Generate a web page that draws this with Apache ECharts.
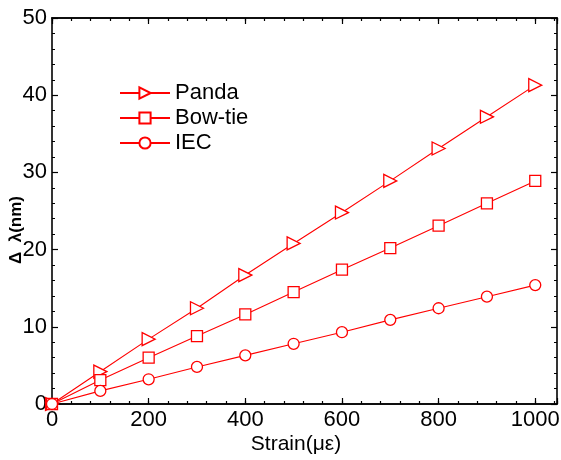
<!DOCTYPE html>
<html><head><meta charset="utf-8">
<script src="https://cdn.jsdelivr.net/npm/echarts@6/dist/echarts.min.js"></script>
<style>html,body{margin:0;padding:0;background:#fff}#c{width:561px;height:460px}</style>
</head><body><div id="c"></div>
<script>
const strain = [0,100,200,300,400,500,600,700,800,900,1000];
const panda = [0,4.2,8.4,12.4,16.7,20.8,24.8,28.9,33.1,37.2,41.3];
const bowtie = [0,3.1,6.0,8.8,11.6,14.5,17.4,20.2,23.1,26.0,28.9];
const iec = [0,1.7,3.2,4.8,6.3,7.8,9.3,10.9,12.4,13.9,15.4];
const names = ['Panda','Bow-tie','IEC'];
const xTicks = [0,200,400,600,800,1000];

const font = 'Liberation Sans, Arial, sans-serif';
const red = '#ff0000';
const X_MAX = 1045;
function mk(name, vals, symbol, size, rot){
  return {name, type:'line', xAxisIndex:0, yAxisIndex:0, data: strain.map((x,i)=>[x,vals[i]]),
    symbol, symbolSize:size, symbolRotate:rot, showAllSymbol:true,
    lineStyle:{color:red,width:1.1}, itemStyle:{color:'#fff',borderColor:red,borderWidth:1.3},
    emphasis:{disabled:true}, animation:false};
}
const line = {show:true,onZero:false,lineStyle:{color:'#000',width:1.6}};
function xAx(pos, interval, len, labels){
  return {type:'value',min:0,max:X_MAX,interval,position:pos,offset:0,
    axisLine:line,
    axisTick:{show:true,inside:true,length:len,lineStyle:{color:'#000',width:1.2}},
    splitLine:{show:false},
    axisLabel: labels ? {show:true,fontFamily:font,fontSize:22,color:'#000',margin:5,
      formatter:v=> xTicks.indexOf(v)>=0 ? String(v) : ''} : {show:false}};
}
function yAx(pos, labels){
  return {type:'value',min:0,max:50,interval:10,position:pos,offset:0,
    axisLine:line,
    axisTick:{show:true,inside:true,length:6,lineStyle:{color:'#000',width:1.2}},
    minorTick:{show:true,splitNumber:5,length:3,lineStyle:{color:'#000',width:1}},
    splitLine:{show:false},
    axisLabel: labels ? {show:true,fontFamily:font,fontSize:22,color:'#000',margin:5} : {show:false}};
}
const chart = echarts.init(document.getElementById('c'));
chart.setOption({
  animation:false,
  grid:{left:52,right:4,top:18,bottom:56,containLabel:false,outerBoundsMode:'none'},
  legend:{left:114,top:77,orient:'vertical',itemGap:3,itemWidth:50,itemHeight:14,
    symbolRotate:'inherit',
    textStyle:{fontFamily:font,fontSize:22,color:'#000'},data:names},
  xAxis:[xAx('bottom',200,6,true), xAx('bottom',40,3,false), xAx('top',200,6,false), xAx('top',40,3,false)],
  yAxis:[yAx('left',true), yAx('right',false)],
  graphic:[{type:'text',x:16,y:230,rotation:Math.PI/2,
    style:{text:'Δ  λ(nm)',fontFamily:font,fontSize:17,fontWeight:'bold',fill:'#000',align:'center',verticalAlign:'middle'}},
    {type:'text',x:296,y:444,
    style:{text:'Strain(με)',fontFamily:font,fontSize:21,fill:'#000',align:'center',verticalAlign:'middle'}}],
  series:[mk('Panda',panda,'triangle',13,-90),mk('Bow-tie',bowtie,'rect',11,0),mk('IEC',iec,'circle',11,0)]
});
</script></body></html>
